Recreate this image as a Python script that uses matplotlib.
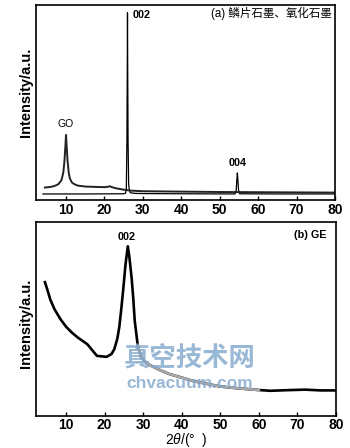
import matplotlib
matplotlib.use("Agg")
import matplotlib.pyplot as plt
import numpy as np

plt.rcParams['font.family'] = ['Liberation Sans', 'Noto Sans CJK SC', 'DejaVu Sans']
plt.rcParams['mathtext.fontset'] = 'custom'
plt.rcParams['mathtext.it'] = 'Liberation Sans:italic'
plt.rcParams['mathtext.rm'] = 'Liberation Sans'

# (a) graphite oxide (GO) pattern
go_x = [4.5, 6, 7, 8, 8.8, 9.3, 9.6, 9.85, 10.0, 10.15, 10.4, 10.7, 11.0, 11.5,
        12.0, 13.0, 15.0, 18.0, 20.0, 21.0, 21.4, 21.8, 23.0, 25.0, 27.0, 30.0,
        40.0, 50.0, 60.0, 70.0, 80.0]
go_y = [6.3, 6.6, 7.1, 8.0, 10.0, 14.0, 20.0, 28.0, 33.3, 28.0, 20.0, 14.0, 11.0, 9.0,
        8.2, 7.3, 6.8, 6.6, 6.5, 6.7, 7.0, 6.6, 5.9, 5.2, 4.7, 4.4,
        4.2, 4.0, 3.9, 3.8, 3.7]

# (a) flake graphite pattern
fg_x = [4.0, 15.0, 25.0, 25.5, 25.7, 25.85, 25.95, 26.0, 26.05, 26.15, 26.3, 26.5,
        26.8, 28.0, 30.0, 40.0, 54.0, 54.3, 54.45, 54.6, 54.75, 54.9, 55.2, 65.0, 80.0]
fg_y = [3.0, 3.0, 3.1, 3.4, 6.0, 30.0, 70.0, 96.0, 70.0, 30.0, 8.0, 4.5,
        3.6, 3.3, 3.2, 3.1, 3.0, 5.0, 10.0, 13.8, 10.0, 5.0, 3.1, 3.0, 3.0]

# (b) graphene (GE) pattern
ge_x = [4.5, 5.0, 5.9, 7.0, 8.5, 10.0, 11.5, 13.0, 15.5, 18.0, 20.5, 21.8, 22.5,
        23.3, 23.8, 24.3, 24.8, 25.4, 26.0, 26.4, 27.0, 27.4, 27.8, 28.6, 29.5,
        31.0, 34.5, 37.0, 40.5, 43.0, 46.0, 50.0, 54.5, 60.0, 63.0, 67.0, 72.0, 76.0, 80.0]
ge_y = [69.0, 66.0, 60.0, 55.0, 50.0, 46.0, 43.0, 40.5, 37.0, 31.0, 30.5, 32.0, 34.5,
        40.0, 46.0, 55.0, 65.0, 78.0, 87.5, 82.0, 71.0, 61.0, 49.0, 36.0, 30.0,
        27.0, 23.5, 21.5, 19.5, 18.0, 16.8, 15.2, 14.3, 13.4, 13.0, 13.3, 13.6, 13.2, 13.2]

ticks = [10, 20, 30, 40, 50, 60, 70, 80]
tick_labels = [str(t) for t in ticks]

fig = plt.figure(figsize=(3.5, 4.48), dpi=100)
ax1 = fig.add_axes([0.103, 0.554, 0.854, 0.435])
ax2 = fig.add_axes([0.103, 0.0714, 0.857, 0.433])


def style(ax, pad, label_y):
    ax.set_xlim(2.2, 80)
    ax.set_ylim(0, 100)
    ax.set_yticks([])
    ax.set_xticks(ticks)
    ax.set_xticklabels(tick_labels, fontsize=10, fontweight='bold')
    ax.tick_params(axis='x', direction='in', length=3, width=1.0, pad=pad)
    for s in ax.spines.values():
        s.set_linewidth(1.2)
    ax.set_ylabel('Intensity/a.u.', fontsize=10.5, fontweight='bold', va='center')
    ax.yaxis.set_label_coords(-0.035, label_y)


style(ax1, 2.5, 0.55)
style(ax2, 1.5, 0.48)

# panel (a)
ax1.plot(fg_x, fg_y, color='black', lw=0.9)
ax1.plot(go_x, go_y, color='#222222', lw=1.4)
ax1.text(10.0, 36.5, 'GO', ha='center', va='bottom', fontsize=7.5)
ax1.text(27.4, 95, '002', ha='left', va='center', fontsize=7.8, fontweight='bold')
ax1.text(54.7, 16.5, '004', ha='center', va='bottom', fontsize=7.8, fontweight='bold')
ax1.text(79.2, 95.5, '(a) 鳞片石墨、氧化石墨', ha='right', va='center', fontsize=8.3,
         family=['Liberation Sans', 'Noto Sans CJK SC'])

# panel (b): the stretch under the site mark prints lighter
ge_x_arr = np.array(ge_x)
ge_y_arr = np.array(ge_y)
ax2.plot(ge_x_arr, ge_y_arr, color='black', lw=1.9, solid_joinstyle='round')
light = (ge_x_arr >= 28.6) & (ge_x_arr <= 60.0)
ax2.plot(ge_x_arr[light], ge_y_arr[light], color='#a8a8a8', lw=1.9)
ax2.text(25.6, 92.5, '002', ha='center', va='center', fontsize=7.8, fontweight='bold')
ax2.text(77.5, 93.5, '(b) GE', ha='right', va='center', fontsize=7.8, fontweight='bold')
ax2.set_xlabel(r'2$\it{\theta}$/(°  )', fontsize=10, va='center')
ax2.xaxis.set_label_coords(0.5, -0.124)

# site mark
fig.text(0.542, 0.201, '真空技术网', ha='center', va='center', fontsize=19,
         fontweight='bold', color='#7ea6cc', alpha=0.8, family=['Noto Sans CJK SC'])
fig.text(0.542, 0.145, 'chvacuum.com', ha='center', va='center', fontsize=12.5,
         fontweight='bold', color='#7ea6cc', alpha=0.8)

fig.savefig('out.png', dpi=100)
